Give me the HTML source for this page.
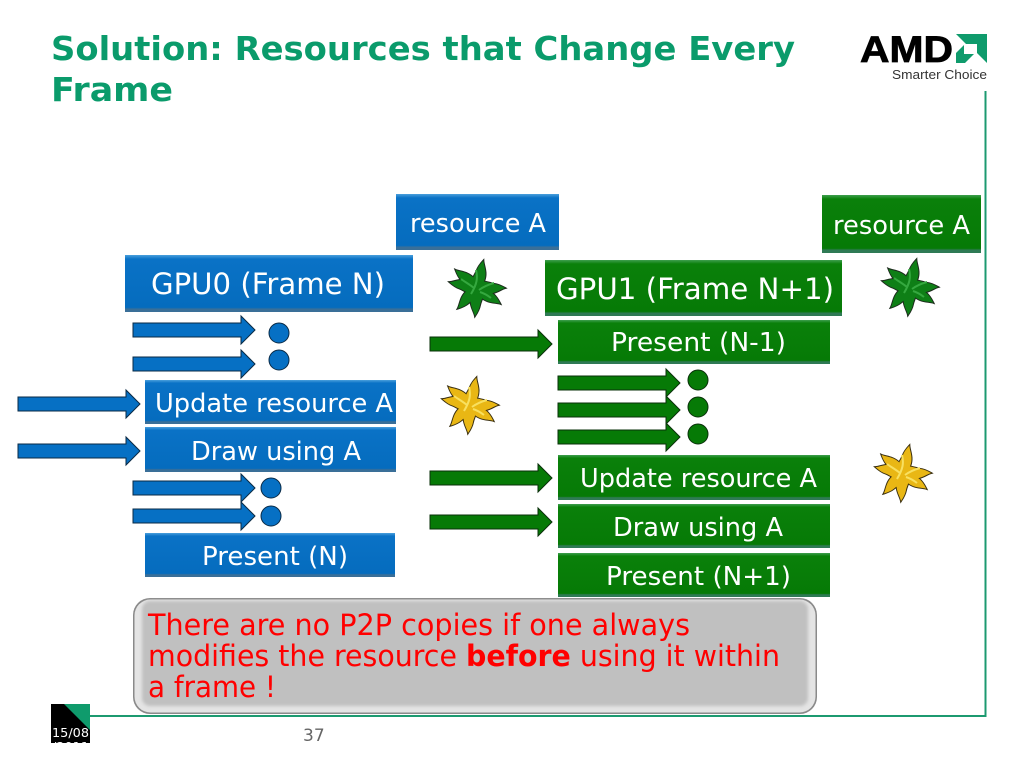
<!DOCTYPE html>
<html><head><meta charset="utf-8"><style>
html,body{margin:0;padding:0;background:#fff;width:1024px;height:768px;overflow:hidden}
svg{display:block}
text{font-family:"DejaVu Sans","Liberation Sans",sans-serif}
.w{fill:#fff;font-size:26px}
.r{fill:#f00;font-size:29px}
</style></head><body>
<svg width="1024" height="768" viewBox="0 0 1024 768" xmlns="http://www.w3.org/2000/svg">
<defs>
<linearGradient id="gb" x1="0" y1="0" x2="0" y2="1"><stop offset="0" stop-color="#4a9fdc"/><stop offset=".07" stop-color="#0a72c6"/><stop offset=".92" stop-color="#056cbe"/><stop offset=".95" stop-color="#3a6f98"/><stop offset="1" stop-color="#3a6f98"/></linearGradient>
<linearGradient id="gg" x1="0" y1="0" x2="0" y2="1"><stop offset="0" stop-color="#3f9f4f"/><stop offset=".07" stop-color="#0a800a"/><stop offset=".92" stop-color="#067a06"/><stop offset=".95" stop-color="#2f7a55"/><stop offset="1" stop-color="#2f7a55"/></linearGradient>
<filter id="bl" x="-5%" y="-10%" width="110%" height="120%"><feGaussianBlur stdDeviation="1.5"/></filter>
<path id="p" d="M-4 4C-9-6-4-12-3-17-2-22 0-25 2-28 3-23 8-17 6-8 5-3 4 0 4 4Z"/>
<g id="star">
<use href="#p" transform="rotate(9)"/><use href="#p" transform="rotate(86)"/><use href="#p" transform="rotate(120)"/><use href="#p" transform="rotate(180)"/><use href="#p" transform="rotate(219)"/><use href="#p" transform="rotate(278)"/><use href="#p" transform="rotate(306)"/>
<circle r="7"/>
</g>
<path id="hl" d="M-1-18C1-10 0-4-6 6M-16-9C-12-6-8-4-3 0M17-5C10-3 6-1 2 2M14 10C9 6 6 5 3 4"/>
<g id="ar"><path d="M0-7H108V-14L122 0 108 14V7H0Z"/></g>
</defs>

<!-- title -->
<text x="51" y="60" textLength="744" lengthAdjust="spacingAndGlyphs" style="font-size:33px;font-weight:bold;fill:#0a9b6b">Solution: Resources that Change Every</text>
<text x="51" y="101" textLength="122" lengthAdjust="spacingAndGlyphs" style="font-size:33px;font-weight:bold;fill:#0a9b6b">Frame</text>

<!-- logo -->
<text x="860" y="62" textLength="93" lengthAdjust="spacingAndGlyphs" style="font-family:'Liberation Sans',sans-serif;font-weight:bold;font-size:37px;fill:#000;stroke:#000;stroke-width:.8">AMD</text>
<path d="M956 34H987V63L977 53V44H966ZM956 63V53L964 45V54H974L965 63Z" fill="#0f9b6c"/>
<text x="892" y="79" textLength="95" lengthAdjust="spacingAndGlyphs" style="font-family:'Liberation Sans',sans-serif;font-size:13px;fill:#333">Smarter Choice</text>

<!-- frame lines -->
<path d="M985.5 91V716H90" fill="none" stroke="#1c9a70" stroke-width="2"/>

<!-- date box -->
<rect x="51" y="704" width="39" height="39" fill="#000"/>
<path d="M64 704H90V730Z" fill="#0f9b6c"/>
<clipPath id="dc"><rect x="51" y="704" width="39" height="39"/></clipPath>
<g clip-path="url(#dc)" fill="#fff" style="font-size:12px">
<text x="52" y="737" textLength="37" lengthAdjust="spacingAndGlyphs">15/08</text>
<text x="52" y="751" textLength="37" lengthAdjust="spacingAndGlyphs">/2011</text>
</g>
<text x="303" y="741" style="font-size:17px;fill:#666">37</text>

<!-- blue boxes -->
<g fill="url(#gb)">
<rect x="396" y="194" width="163" height="56"/>
<rect x="125" y="255" width="288" height="57"/>
<rect x="145" y="380" width="251" height="44"/>
<rect x="145" y="427" width="251" height="45"/>
<rect x="145" y="533" width="250" height="44"/>
</g>
<!-- green boxes -->
<g fill="url(#gg)">
<rect x="822" y="195" width="159" height="58"/>
<rect x="545" y="260" width="297" height="56"/>
<rect x="558" y="320" width="272" height="44"/>
<rect x="558" y="455" width="272" height="45"/>
<rect x="558" y="504" width="272" height="44"/>
<rect x="558" y="553" width="272" height="44"/>
</g>

<!-- box labels -->
<g class="w">
<text class="w" x="410" y="232" textLength="136" lengthAdjust="spacingAndGlyphs">resource A</text>
<text class="w" x="151" y="294" textLength="234" lengthAdjust="spacingAndGlyphs" style="font-size:29px">GPU0 (Frame N)</text>
<text class="w" x="155" y="412" textLength="238" lengthAdjust="spacingAndGlyphs">Update resource A</text>
<text class="w" x="191" y="460" textLength="170" lengthAdjust="spacingAndGlyphs">Draw using A</text>
<text class="w" x="202" y="565" textLength="146" lengthAdjust="spacingAndGlyphs">Present (N)</text>
<text class="w" x="833" y="234" textLength="137" lengthAdjust="spacingAndGlyphs">resource A</text>
<text class="w" x="556" y="299" textLength="278" lengthAdjust="spacingAndGlyphs" style="font-size:29px">GPU1 (Frame N+1)</text>
<text class="w" x="611" y="351" textLength="175" lengthAdjust="spacingAndGlyphs">Present (N-1)</text>
<text class="w" x="580" y="487" textLength="237" lengthAdjust="spacingAndGlyphs">Update resource A</text>
<text class="w" x="613" y="536" textLength="170" lengthAdjust="spacingAndGlyphs">Draw using A</text>
<text class="w" x="606" y="585" textLength="185" lengthAdjust="spacingAndGlyphs">Present (N+1)</text>
</g>

<!-- blue arrows -->
<g fill="#0670c4" stroke="#0a2a45" stroke-width="1">
<use href="#ar" x="133" y="330"/>
<use href="#ar" x="133" y="364"/>
<use href="#ar" x="18" y="404"/>
<use href="#ar" x="18" y="451"/>
<use href="#ar" x="133" y="488"/>
<use href="#ar" x="133" y="516"/>
<circle cx="279" cy="333" r="10"/>
<circle cx="279" cy="360" r="10"/>
<circle cx="271" cy="488" r="10"/>
<circle cx="271" cy="516" r="10"/>
</g>
<!-- green arrows -->
<g fill="#067a06" stroke="#0a300a" stroke-width="1">
<use href="#ar" x="430" y="344"/>
<use href="#ar" x="558" y="383"/>
<use href="#ar" x="558" y="410"/>
<use href="#ar" x="558" y="437"/>
<use href="#ar" x="430" y="478"/>
<use href="#ar" x="430" y="522"/>
<circle cx="698" cy="380" r="10"/>
<circle cx="698" cy="407" r="10"/>
<circle cx="698" cy="434" r="10"/>
</g>

<!-- stars -->
<g stroke="#1d2a1d" stroke-width="2" fill="#1d2a1d">
<use href="#star" x="477" y="288"/>
<use href="#star" x="910" y="287"/>
</g>
<g fill="#0e7f16">
<use href="#star" x="477" y="288"/>
<use href="#star" x="910" y="287"/>
</g>
<g fill="none" stroke="#35a83f" stroke-width="2">
<use href="#hl" x="477" y="288"/>
<use href="#hl" x="910" y="287"/>
</g>
<g stroke="#3a2f10" stroke-width="2" fill="#3a2f10">
<use href="#star" x="470" y="405"/>
<use href="#star" x="903" y="473"/>
</g>
<g fill="#e9b714">
<use href="#star" x="470" y="405"/>
<use href="#star" x="903" y="473"/>
</g>
<g fill="none" stroke="#f8e060" stroke-width="2">
<use href="#hl" x="470" y="405"/>
<use href="#hl" x="903" y="473"/>
</g>

<!-- callout -->
<rect x="133" y="598" width="684" height="116" rx="17" fill="#8a8a8a"/>
<rect x="134.5" y="599.5" width="681" height="113" rx="16" fill="#e4e4e4"/>
<rect x="142" y="601" width="666" height="105" rx="8" fill="#c0c0c0" filter="url(#bl)"/>
<text class="r" x="148" y="635" textLength="542" lengthAdjust="spacingAndGlyphs">There are no P2P copies if one always</text>
<text class="r" x="148" y="666" textLength="632" lengthAdjust="spacingAndGlyphs">modifies the resource <tspan font-weight="bold">before</tspan> using it within</text>
<text class="r" x="148" y="697" textLength="128" lengthAdjust="spacingAndGlyphs">a frame !</text>
</svg>
</body></html>
